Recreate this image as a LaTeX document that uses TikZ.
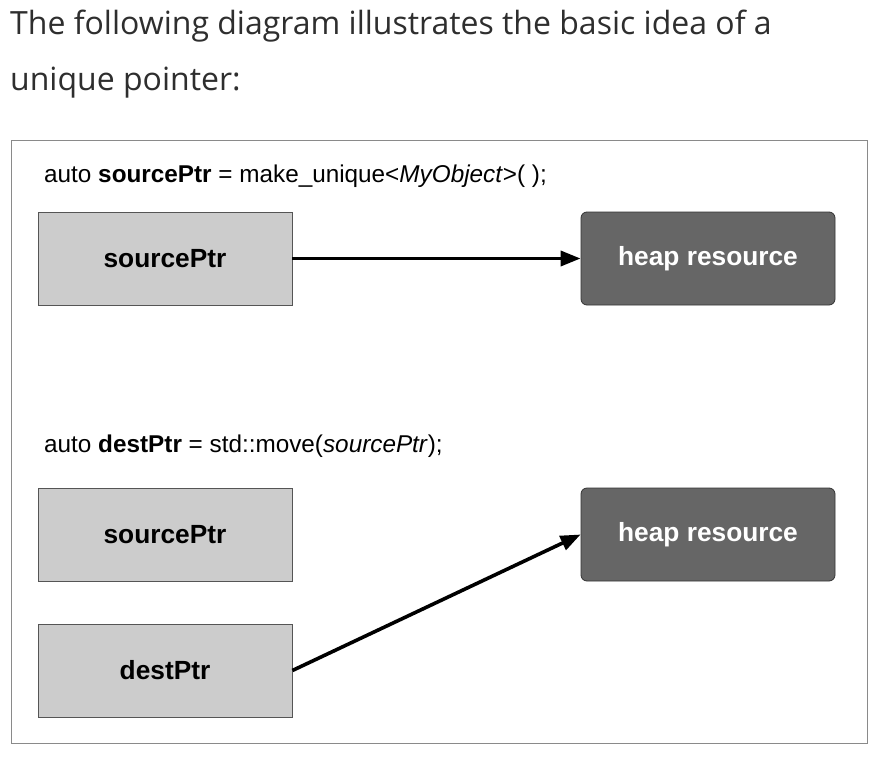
\documentclass[tikz,border=0pt]{standalone}
\usepackage{fontspec}
\setmainfont{Liberation Sans}
\newfontfamily\headfont{Open Sans}
\usetikzlibrary{arrows.meta}
\definecolor{lightbox}{HTML}{CCCCCC}
\definecolor{darkbox}{HTML}{666666}
\definecolor{headtext}{HTML}{2E2E2E}
\definecolor{framegray}{HTML}{8A8A8A}
\definecolor{boxborder}{HTML}{555555}
\begin{document}
\begin{tikzpicture}[x=1pt,y=-1pt,
  headline/.style={anchor=base west, inner sep=0pt, text=headtext, font=\headfont\fontsize{32}{38}\selectfont},
  codeline/.style={anchor=base west, inner sep=0pt, text=black, font=\fontsize{24.3}{28}\selectfont},
  ptrbox/.style={draw=boxborder, line width=0.8pt, fill=lightbox, minimum width=254pt, minimum height=93pt, inner sep=0pt, font=\bfseries\fontsize{26.3}{30}\selectfont},
  heapbox/.style={draw=black!80, line width=0.8pt, fill=darkbox, rounded corners=6pt, minimum width=254pt, minimum height=93pt, inner sep=0pt, text=white, font=\bfseries\fontsize{26.3}{30}\selectfont},
  ptrarrow/.style={line width=3.6pt, -{Triangle[length=20pt,width=15pt]}}
]
\useasboundingbox (0,0) rectangle (878,760);
\fill[white] (0,0) rectangle (878,760);
\node[headline] (h1) at (10,35) {The following diagram illustrates the basic idea of a};
\node[headline] (h2) at (10,90) {unique pointer:};
\node[draw=framegray, line width=1pt, anchor=north west, minimum width=856pt, minimum height=603pt, inner sep=0pt] (frame) at (11,140) {};
\node[codeline] (code1) at (44,182) {auto \textbf{sourcePtr} = make\_unique<\textit{MyObject}>( );};
\node[codeline] (code2) at (44,452) {auto \textbf{destPtr} = std::move(\textit{sourcePtr});};
\node[ptrbox] (src1) at (165,258.5) {\raisebox{-2pt}{sourcePtr}};
\node[heapbox] (heap1) at (708,258.5) {\raisebox{-2pt}{heap resource}};
\node[ptrbox] (src2) at (165,534.5) {\raisebox{-2pt}{sourcePtr}};
\node[heapbox] (heap2) at (708,534.5) {\raisebox{-2pt}{heap resource}};
\node[ptrbox] (dest) at (165,670.5) {\raisebox{-2pt}{destPtr}};
\draw[ptrarrow] (src1.east) -- (heap1.west);
\draw[ptrarrow] (dest.east) -- (heap2.west);
\end{tikzpicture}
\end{document}
